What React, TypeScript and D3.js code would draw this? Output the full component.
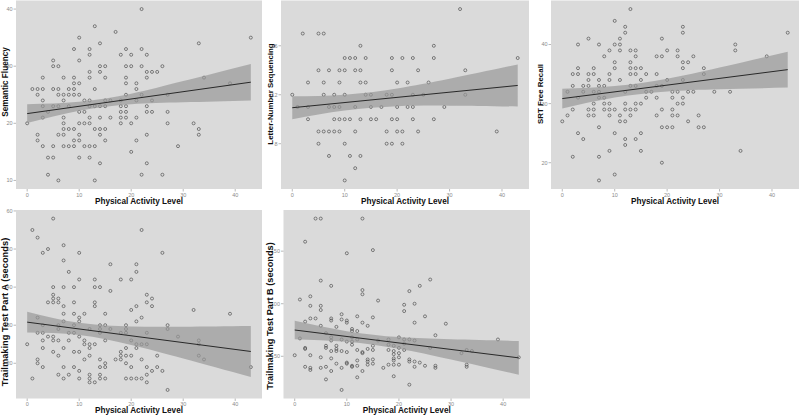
import React from 'react';
import * as d3 from 'd3';

const W = 800;
const H = 415;

const xTicks = [0, 10, 20, 30, 40];
const bandX = [0, 10, 20, 30, 43];
const fitX = [0, 43];
const xTitle = 'Physical Activity Level';

// Semantic Fluency
const sfCols = [0, 1, 2, 3, 4, 5, 6, 7, 8, 9, 10, 11, 12, 13, 14, 15, 16, 17, 18, 19, 20, 21, 22, 23, 24, 25, 26, 27, 29, 32, 33, 34, 39, 43];
const sfVals = [
  [20], [26], [26, 25, 18, 17], [26, 28, 24, 23, 21, 16], [22, 14, 11], [31, 30, 26, 23, 16, 14],
  [30, 26, 25, 23, 18, 10], [28, 25, 24, 21, 20, 19, 18, 16], [26, 25, 23, 19, 16],
  [33, 28, 27, 26, 25, 19, 17, 16], [35, 31, 27, 25, 22, 20, 18, 17, 14], [24, 22, 20, 16],
  [33, 32, 29, 28, 24, 23, 21, 20, 16, 14], [37, 26, 23, 19, 16, 10], [34, 30, 29, 23, 21, 19, 18, 13],
  [30, 28, 24, 23, 19, 17], [24, 21], [36], [32, 24, 23, 22, 21, 20], [33, 30, 28, 27, 25, 23, 22, 21],
  [32, 30, 20, 15], [27, 26, 24, 21, 17], [40, 33, 30, 25, 11], [32, 29, 28, 23, 22, 18, 13],
  [29, 24, 22], [29], [30, 11], [25, 22, 20], [16], [20], [34, 19, 18], [28], [27], [35],
];
const sfFit = [21.7, 27.2];
const sfLower = [20.05, 22.19, 23.34, 23.69, 24.0];
const sfUpper = [23.35, 23.77, 25.18, 27.39, 30.4];
const sfTicks = [10, 20, 30, 40];

// Letter-Number Sequencing
const lnsCols = [0, 1, 2, 3, 5, 6, 7, 8, 9, 10, 11, 12, 13, 14, 15, 16, 17, 18, 19, 20, 21, 22, 23, 24, 25, 26, 27, 29, 32, 33, 39, 43];
const lnsVals = [
  [12], [11], [17], [13, 11, 10], [17, 14, 9, 8], [17, 13, 12, 9], [14, 11, 9, 7], [12, 11, 10, 9],
  [14, 13, 11, 10, 9], [15, 14, 12, 10, 8, 5], [15, 10, 7], [15, 14, 11, 9, 6], [16, 14, 13, 10, 7],
  [15, 13, 12], [12, 11, 10], [10], [11], [12, 9, 8], [15, 14, 12, 10, 8], [13, 11, 10, 9], [15, 9, 8],
  [13, 11], [15, 12, 11, 10], [14, 9], [12], [13], [16, 15, 10], [11], [19], [14, 12], [9], [15],
];
const lnsFit = [10.94, 12.76];
const lnsLower = [10.0, 10.71, 11.06, 11.11, 11.04];
const lnsUpper = [11.88, 12.01, 12.52, 13.31, 14.48];
const lnsTicks = [8, 12, 16];

// SRT Free Recall
const srtCols = [0, 1, 2, 3, 4, 5, 6, 7, 8, 9, 10, 11, 12, 13, 14, 15, 16, 17, 18, 19, 20, 21, 22, 23, 24, 25, 26, 27, 29, 32, 33, 34, 39, 43];
const srtVals = [
  [27], [28, 32], [35, 33, 29, 21], [40, 36, 35, 31, 25], [33, 32, 24], [41, 35, 34, 33, 29, 28],
  [36, 35, 32, 30, 29, 28], [40, 34, 33, 32, 31, 26, 21, 17], [38, 33, 31, 30, 29],
  [39, 35, 34, 30, 29, 28, 22], [44, 40, 37, 36, 29, 25, 18], [41, 40, 39, 34, 28, 27],
  [43, 42, 32, 30, 29, 27, 24, 23], [46, 39, 37, 36, 35, 33, 29, 28], [39, 38, 36, 35, 33, 30, 29, 24],
  [36, 34, 30, 25, 22], [35, 32, 31], [32], [38, 35, 33, 31, 28], [41, 38, 33, 29, 26, 20], [39, 34, 26],
  [32, 31, 29, 28, 26], [39, 38, 32, 30, 28], [43, 42, 37, 36, 34, 31, 30], [37, 32, 27], [38, 32],
  [28, 26], [36, 35, 26], [32], [32], [40, 39], [22], [38], [42],
];
const srtFit = [30.85, 35.75];
const srtLower = [29.19, 31.02, 32.06, 32.44, 32.71];
const srtUpper = [32.51, 32.97, 34.2, 36.1, 38.79];
const srtTicks = [20, 30, 40];

// Trailmaking Test Part A
const tmaCols = [0, 1, 2, 3, 4, 5, 6, 7, 8, 9, 10, 11, 12, 13, 14, 15, 16, 17, 18, 19, 20, 21, 22, 23, 24, 25, 26, 27, 29, 32, 33, 34, 39, 43];
const tmaVals = [
  [25], [55, 16], [53, 32, 28, 21, 20], [49, 30, 28, 26, 24, 19], [50, 36, 27], [58, 40, 38, 37, 36, 27, 26, 23],
  [37, 36, 30, 29, 26, 22, 17], [51, 47, 40, 35, 33, 31, 24, 19, 16], [44, 28, 26, 17],
  [40, 36, 33, 30, 28, 23, 19], [49, 42, 32, 31, 27, 23, 18, 16], [33, 26, 25, 21],
  [29, 25, 24, 22, 17, 16, 15], [42, 40, 36, 35, 25, 15], [40, 30, 29, 28, 21, 19, 17, 16],
  [33, 30, 26, 20, 19, 16], [46, 39, 29], [21], [42, 28, 23, 22, 21], [30, 29, 28, 24, 22, 20, 16],
  [42, 34, 26, 22, 19, 16], [46, 44, 35, 31, 25, 24, 16], [55, 32, 25, 21, 16], [38, 36, 28, 25, 19, 17, 15],
  [37, 35, 18], [22, 19], [49, 18], [30, 29, 13], [27], [34], [26, 25, 22], [21], [33], [19],
];
const tmaFit = [30.8, 23.1];
const tmaLower = [28.05, 27.4, 24.79, 21.25, 16.4];
const tmaUpper = [33.55, 30.62, 29.65, 29.61, 29.8];
const tmaTicks = [20, 30, 40, 50, 60];

// Trailmaking Test Part B
const tmbCols = [0, 1, 2, 3, 4, 5, 6, 7, 8, 9, 10, 11, 12, 13, 14, 15, 16, 17, 18, 19, 20, 21, 22, 23, 24, 25, 26, 27, 29, 32, 33, 34, 39, 43];
const tmbVals = [
  [51], [104, 67], [159, 83, 58, 57, 40], [107, 98, 86, 51, 39, 37], [181, 86], [181, 122, 98, 94, 79, 49, 39],
  [72, 60, 58, 40, 28], [117, 86, 84, 68, 65, 55, 48, 36], [78, 60, 57, 55, 43], [90, 85, 66, 55, 39, 18],
  [148, 84, 82, 64, 54, 44, 43], [76, 74, 68, 64, 61, 41, 40], [88, 74, 66, 56, 46, 41, 30],
  [181, 113, 109, 82, 54, 53, 36], [79, 57, 47, 45, 42], [151, 87, 60, 56, 47, 43], [103, 65], [39],
  [66, 61, 56, 42], [60, 55, 52, 48, 46, 42, 31], [68, 58, 53, 49, 42], [99, 93, 66, 62, 56],
  [112, 66, 47, 45, 23], [100, 82, 65, 45, 40], [117, 44], [88, 41], [123, 58], [70, 41, 39], [81], [53],
  [56, 42, 40], [55], [66], [49],
];
const tmbFit = [75.0, 48.5];
const tmbLower = [66.3, 63.8, 57.12, 46.9, 32.5];
const tmbUpper = [83.7, 73.88, 68.24, 66.14, 64.5];
const tmbTicks = [50, 100, 150];

type PanelSpec = {
  title: string;
  cols: number[];
  vals: number[][];
  fit: number[];
  lower: number[];
  upper: number[];
  ticks: number[];
  left: number; right: number; top: number; bottom: number;
  titleX: number; titleY: number; titleSize: number;
  xTitleY: number;
};

const panels: PanelSpec[] = [
  { title: 'Semantic Fluency', cols: sfCols, vals: sfVals, fit: sfFit, lower: sfLower, upper: sfUpper, ticks: sfTicks,
    left: 16, right: 262, top: 0.5, bottom: 189, titleX: 7.5, titleY: 82, titleSize: 8.2, xTitleY: 203.5 },
  { title: 'Letter-Number Sequencing', cols: lnsCols, vals: lnsVals, fit: lnsFit, lower: lnsLower, upper: lnsUpper, ticks: lnsTicks,
    left: 281, right: 529, top: 0.5, bottom: 189, titleX: 272.5, titleY: 94, titleSize: 7.9, xTitleY: 203.5 },
  { title: 'SRT Free Recall', cols: srtCols, vals: srtVals, fit: srtFit, lower: srtLower, upper: srtUpper, ticks: srtTicks,
    left: 551, right: 799, top: 0.5, bottom: 189, titleX: 542.5, titleY: 94, titleSize: 7.9, xTitleY: 203.5 },
  { title: 'Trailmaking Test Part A (seconds)', cols: tmaCols, vals: tmaVals, fit: tmaFit, lower: tmaLower, upper: tmaUpper, ticks: tmaTicks,
    left: 16, right: 262, top: 210, bottom: 398.5, titleX: 7.5, titleY: 312, titleSize: 9.3, xTitleY: 412.5 },
  { title: 'Trailmaking Test Part B (seconds)', cols: tmbCols, vals: tmbVals, fit: tmbFit, lower: tmbLower, upper: tmbUpper, ticks: tmbTicks,
    left: 283.5, right: 530, top: 210, bottom: 398.5, titleX: 273, titleY: 316, titleSize: 9.2, xTitleY: 412.5 },
];

const FONT = "'Liberation Sans', Arial, sans-serif";

function Panel({ p }: { p: PanelSpec }) {
  const xs: number[] = [];
  const ys: number[] = [];
  p.cols.forEach((c, i) => p.vals[i].forEach((v) => { xs.push(c); ys.push(v); }));
  const [x0, x1] = d3.extent(xs) as [number, number];
  const [y0, y1] = d3.extent(ys) as [number, number];
  const xPad = (x1 - x0) * 0.05;
  const yPad = (y1 - y0) * 0.05;
  const x = d3.scaleLinear().domain([x0 - xPad, x1 + xPad]).range([p.left, p.right]);
  const y = d3.scaleLinear().domain([y0 - yPad, y1 + yPad]).range([p.bottom, p.top]);

  const bandData = bandX.map((bx, i) => ({ x: bx, lo: p.lower[i], hi: p.upper[i] }));
  const area = d3.area<{ x: number; lo: number; hi: number }>()
    .x((d) => x(d.x)).y0((d) => y(d.lo)).y1((d) => y(d.hi)).curve(d3.curveNatural);
  const line = d3.line<number>().x((_, i) => x(fitX[i])).y((d) => y(d));
  const cx = (p.left + p.right) / 2;

  return (
    <g>
      <rect x={p.left} y={p.top} width={p.right - p.left} height={p.bottom - p.top} fill="#dadada" />
      {xs.map((xv, i) => (
        <circle key={i} cx={x(xv)} cy={y(ys[i])} r={1.5} fill="none" stroke="#444" strokeWidth={0.75} strokeOpacity={0.85} />
      ))}
      <path d={area(bandData) || ''} fill="#999" fillOpacity={0.7} />
      <path d={line(p.fit) || ''} fill="none" stroke="#1a1a1a" strokeWidth={0.9} />
      {p.ticks.map((t) => (
        <g key={'y' + t}>
          <line x1={p.left - 2.5} x2={p.left} y1={y(t)} y2={y(t)} stroke="#8a8a8a" strokeWidth={0.6} />
          <text x={p.left - 3.5} y={y(t)} dy="0.35em" textAnchor="end" fontSize={5.5} fill="#8a8a8a" fontFamily={FONT}>{t}</text>
        </g>
      ))}
      {xTicks.map((t) => (
        <g key={'x' + t}>
          <line x1={x(t)} x2={x(t)} y1={p.bottom} y2={p.bottom + 2.5} stroke="#8a8a8a" strokeWidth={0.6} />
          <text x={x(t)} y={p.bottom + 7.5} textAnchor="middle" fontSize={5.5} fill="#8a8a8a" fontFamily={FONT}>{t}</text>
        </g>
      ))}
      <text x={cx} y={p.xTitleY} textAnchor="middle" fontSize={8.2} fontWeight="bold" fill="#111" fontFamily={FONT}>{xTitle}</text>
      <text transform={`translate(${p.titleX},${p.titleY}) rotate(-90)`} textAnchor="middle" fontSize={p.titleSize}
        fontWeight="bold" fill="#111" fontFamily={FONT}>{p.title}</text>
    </g>
  );
}

export default function App() {
  return (
    <svg width={W} height={H} viewBox={`0 0 ${W} ${H}`} style={{ position: 'absolute', left: 0, top: 0, background: '#fff' }}>
      {panels.map((p, i) => <Panel key={i} p={p} />)}
    </svg>
  );
}
